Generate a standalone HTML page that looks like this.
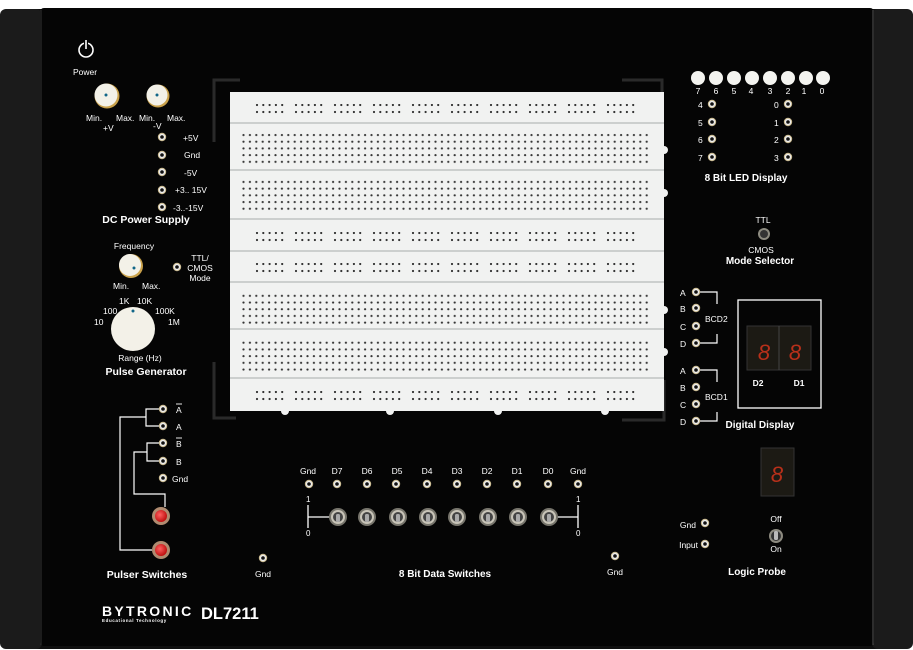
<!DOCTYPE html>
<html><head><meta charset="utf-8"><style>
html,body{margin:0;padding:0;background:#fff;}
svg{display:block;}
text{font-family:"Liberation Sans",sans-serif;fill:#fff;}
.b{font-weight:bold;}
</style></head><body>
<svg width="913" height="650" viewBox="0 0 913 650" xmlns="http://www.w3.org/2000/svg">
<defs>
<pattern id="term" x="242" y="133" width="6.4" height="6.7" patternUnits="userSpaceOnUse"><circle cx="1.5" cy="2" r="1.1" fill="#333"/></pattern>
<g id="grp" fill="#333"><circle cx="2" cy="1" r="1.1"/><circle cx="8.3" cy="1" r="1.1"/><circle cx="14.6" cy="1" r="1.1"/><circle cx="20.9" cy="1" r="1.1"/><circle cx="27.2" cy="1" r="1.1"/>
<circle cx="2" cy="8" r="1.1"/><circle cx="8.3" cy="8" r="1.1"/><circle cx="14.6" cy="8" r="1.1"/><circle cx="20.9" cy="8" r="1.1"/><circle cx="27.2" cy="8" r="1.1"/></g>
<pattern id="r1" x="255" y="104" width="39" height="20" patternUnits="userSpaceOnUse"><use href="#grp"/></pattern>
<pattern id="r2" x="255" y="232" width="39" height="20" patternUnits="userSpaceOnUse"><use href="#grp"/></pattern>
<pattern id="r3" x="255" y="263" width="39" height="20" patternUnits="userSpaceOnUse"><use href="#grp"/></pattern>
<pattern id="r4" x="255" y="391" width="39" height="20" patternUnits="userSpaceOnUse"><use href="#grp"/></pattern>
<g id="jack"><circle r="4.2" fill="#c9b98f"/><circle r="3.2" fill="#eee"/><circle r="1.8" fill="#111"/></g>
<g id="tog"><circle r="9" fill="#77756c"/><circle r="7" fill="#c8c4b8"/><circle r="5" fill="#444"/><rect x="-2" y="-3" width="4" height="8" rx="1.5" fill="#aaa"/></g>
<radialGradient id="red" cx="0.4" cy="0.4" r="0.6"><stop offset="0" stop-color="#ff6060"/><stop offset="1" stop-color="#c01010"/></radialGradient>
</defs>
<!-- outer body -->
<rect x="0" y="9" width="913" height="640" rx="8" fill="#101010"/>
<rect x="0" y="9" width="42" height="640" rx="6" fill="#1b1b1b"/>
<rect x="872" y="9" width="41" height="640" rx="6" fill="#1b1b1b"/>
<rect x="40" y="8" width="834" height="638" rx="4" fill="#050505"/>
<line x1="873" y1="10" x2="873" y2="645" stroke="#555" stroke-width="1"/>
<line x1="41" y1="10" x2="41" y2="645" stroke="#333" stroke-width="1"/>

<!-- brackets around breadboard -->
<g stroke="#2a2a2a" stroke-width="3" fill="none">
<path d="M214 142 V80 H240"/><path d="M622 80 H662 V100"/><path d="M214 362 V418 H236"/><path d="M622 420 H664 V380"/>
</g>
<!-- breadboard -->
<rect x="230" y="92" width="434" height="319" fill="#f1f2f1"/>
<g stroke="#bfc3c2" stroke-width="1.5">
<line x1="230" y1="123" x2="664" y2="123"/><line x1="230" y1="170" x2="664" y2="170"/><line x1="230" y1="219" x2="664" y2="219"/><line x1="230" y1="251" x2="664" y2="251"/><line x1="230" y1="282" x2="664" y2="282"/><line x1="230" y1="329" x2="664" y2="329"/><line x1="230" y1="378" x2="664" y2="378"/>
</g>
<rect x="242" y="133" width="408" height="33" fill="url(#term)"/>
<rect x="242" y="180" width="408" height="33" fill="url(#term)"/>
<rect x="242" y="293" width="408" height="33" fill="url(#term)"/>
<rect x="242" y="339" width="408" height="33" fill="url(#term)"/>
<rect x="255" y="104" width="390" height="12" fill="url(#r1)"/>
<rect x="255" y="232" width="390" height="12" fill="url(#r2)"/>
<rect x="255" y="263" width="390" height="12" fill="url(#r3)"/>
<rect x="255" y="391" width="390" height="12" fill="url(#r4)"/>
<g fill="#f1f2f1"><circle cx="664" cy="150" r="4"/><circle cx="664" cy="193" r="4"/><circle cx="664" cy="310" r="4"/><circle cx="664" cy="352" r="4"/>
<circle cx="285" cy="411" r="4"/><circle cx="390" cy="411" r="4"/><circle cx="498" cy="411" r="4"/><circle cx="605" cy="411" r="4"/></g>

<!-- Power / DC supply -->
<circle cx="86" cy="50" r="7" fill="none" stroke="#fff" stroke-width="1.6"/>
<rect x="84" y="39" width="4" height="10" fill="#050505"/><line x1="86" y1="40" x2="86" y2="49" stroke="#fff" stroke-width="1.6"/>
<text x="85" y="75" font-size="8.5" text-anchor="middle">Power</text>
<circle cx="107" cy="96" r="12.5" fill="#c9a14a"/><circle cx="106" cy="95" r="11.5" fill="#f3f1e8"/><circle cx="106" cy="95" r="1.5" fill="#168"/>
<circle cx="158" cy="96" r="11.5" fill="#c9a14a"/><circle cx="157" cy="95" r="10.5" fill="#f3f1e8"/><circle cx="157" cy="95" r="1.5" fill="#168"/>
<g font-size="8.5"><text x="86" y="121">Min.</text><text x="116" y="121">Max.</text><text x="139" y="121">Min.</text><text x="167" y="121">Max.</text>
<text x="103" y="131">+V</text><text x="153" y="129">-V</text></g>
<use href="#jack" x="162" y="137"/><use href="#jack" x="162" y="155"/><use href="#jack" x="162" y="172"/><use href="#jack" x="162" y="190"/><use href="#jack" x="162" y="207"/>
<g font-size="8.5"><text x="183" y="141">+5V</text><text x="184" y="158">Gnd</text><text x="184" y="176">-5V</text><text x="175" y="193">+3.. 15V</text><text x="173" y="211">-3..-15V</text></g>
<text x="146" y="223" font-size="10.5" class="b" text-anchor="middle">DC Power Supply</text>

<!-- Pulse generator -->
<text x="134" y="249" font-size="8.5" text-anchor="middle">Frequency</text>
<circle cx="131" cy="266" r="12" fill="#c9a14a"/><circle cx="130" cy="265" r="11" fill="#f3f1e8"/><circle cx="134" cy="268" r="1.5" fill="#168"/>
<text x="113" y="289" font-size="8.5">Min.</text><text x="142" y="289" font-size="8.5">Max.</text>
<use href="#jack" x="177" y="267"/>
<g font-size="8.5" text-anchor="middle"><text x="200" y="261">TTL/</text><text x="200" y="271">CMOS</text><text x="200" y="281">Mode</text></g>
<g font-size="8.5"><text x="119" y="304">1K</text><text x="137" y="304">10K</text><text x="103" y="314">100</text><text x="155" y="314">100K</text><text x="94" y="325">10</text><text x="168" y="325">1M</text></g>
<circle cx="133" cy="329" r="22" fill="#f3f1e8"/><circle cx="133" cy="311" r="1.5" fill="#168"/>
<text x="140" y="361" font-size="8.5" text-anchor="middle">Range (Hz)</text>
<text x="146" y="375" font-size="10.5" class="b" text-anchor="middle">Pulse Generator</text>

<!-- Pulser switches -->
<g stroke="#fff" stroke-width="1.2" fill="none">
<path d="M163 409 H146 V426 H163"/><path d="M146 417 H120 V550 H152"/>
<path d="M163 443 H147 V461 H163"/><path d="M147 452 H134 V494 H165 V507"/>
</g>
<use href="#jack" x="163" y="409"/><use href="#jack" x="163" y="426"/><use href="#jack" x="163" y="443"/><use href="#jack" x="163" y="461"/><use href="#jack" x="163" y="478"/>
<g font-size="8.5"><text x="176" y="413">A</text><line x1="176" y1="404" x2="182" y2="404" stroke="#fff" stroke-width="0.9"/><text x="176" y="430">A</text><text x="176" y="447">B</text><line x1="176" y1="438" x2="182" y2="438" stroke="#fff" stroke-width="0.9"/><text x="176" y="465">B</text><text x="172" y="482">Gnd</text></g>
<circle cx="161" cy="516" r="9" fill="#b08b70"/><circle cx="161" cy="516" r="6" fill="url(#red)"/>
<circle cx="161" cy="550" r="9" fill="#b08b70"/><circle cx="161" cy="550" r="6" fill="url(#red)"/>
<text x="147" y="578" font-size="10.5" class="b" text-anchor="middle">Pulser Switches</text>

<!-- Data switches -->
<g font-size="8.5" text-anchor="middle"><text x="308" y="474">Gnd</text><text x="337" y="474">D7</text><text x="367" y="474">D6</text><text x="397" y="474">D5</text><text x="427" y="474">D4</text><text x="457" y="474">D3</text><text x="487" y="474">D2</text><text x="517" y="474">D1</text><text x="548" y="474">D0</text><text x="578" y="474">Gnd</text></g>
<use href="#jack" x="309" y="484"/><use href="#jack" x="337" y="484"/><use href="#jack" x="367" y="484"/><use href="#jack" x="396" y="484"/><use href="#jack" x="427" y="484"/><use href="#jack" x="457" y="484"/><use href="#jack" x="487" y="484"/><use href="#jack" x="517" y="484"/><use href="#jack" x="548" y="484"/><use href="#jack" x="578" y="484"/>
<g stroke="#fff" stroke-width="1.3"><line x1="308" y1="505" x2="308" y2="528"/><line x1="308" y1="517" x2="330" y2="517"/><line x1="578" y1="505" x2="578" y2="528"/><line x1="556" y1="517" x2="578" y2="517"/></g>
<g font-size="8"><text x="306" y="502">1</text><text x="306" y="536">0</text><text x="576" y="502">1</text><text x="576" y="536">0</text></g>
<use href="#tog" x="338" y="517"/><use href="#tog" x="367" y="517"/><use href="#tog" x="398" y="517"/><use href="#tog" x="428" y="517"/><use href="#tog" x="457" y="517"/><use href="#tog" x="488" y="517"/><use href="#tog" x="518" y="517"/><use href="#tog" x="549" y="517"/>
<use href="#jack" x="263" y="558"/><text x="263" y="577" font-size="8.5" text-anchor="middle">Gnd</text>
<use href="#jack" x="615" y="556"/><text x="615" y="575" font-size="8.5" text-anchor="middle">Gnd</text>
<text x="445" y="577" font-size="10" class="b" text-anchor="middle">8 Bit Data Switches</text>

<!-- Brand -->
<text x="102" y="616" font-size="14" class="b" letter-spacing="2.3">BYTRONIC</text>
<text x="102" y="622" font-size="4.5" class="b" letter-spacing="0.6">Educational Technology</text>
<text x="201" y="619" font-size="16.5" class="b">DL7211</text>

<!-- LED display -->
<g fill="#f4f4f0"><circle cx="698" cy="78" r="7"/><circle cx="716" cy="78" r="7"/><circle cx="734" cy="78" r="7"/><circle cx="752" cy="78" r="7"/><circle cx="770" cy="78" r="7"/><circle cx="788" cy="78" r="7"/><circle cx="806" cy="78" r="7"/><circle cx="823" cy="78" r="7"/></g>
<g font-size="8.5" text-anchor="middle"><text x="698" y="94">7</text><text x="716" y="94">6</text><text x="734" y="94">5</text><text x="751" y="94">4</text><text x="770" y="94">3</text><text x="788" y="94">2</text><text x="804" y="94">1</text><text x="822" y="94">0</text></g>
<use href="#jack" x="712" y="104"/><use href="#jack" x="712" y="122"/><use href="#jack" x="712" y="139"/><use href="#jack" x="712" y="157"/>
<use href="#jack" x="788" y="104"/><use href="#jack" x="788" y="122"/><use href="#jack" x="788" y="139"/><use href="#jack" x="788" y="157"/>
<g font-size="8.5"><text x="698" y="108">4</text><text x="698" y="126">5</text><text x="698" y="143">6</text><text x="698" y="161">7</text><text x="774" y="108">0</text><text x="774" y="126">1</text><text x="774" y="143">2</text><text x="774" y="161">3</text></g>
<text x="746" y="181" font-size="10" class="b" text-anchor="middle">8 Bit LED Display</text>

<!-- Mode selector -->
<text x="763" y="223" font-size="8.5" text-anchor="middle">TTL</text>
<circle cx="764" cy="234" r="6" fill="#8d8b80"/><circle cx="764" cy="234" r="4" fill="#333"/>
<text x="761" y="253" font-size="8.5" text-anchor="middle">CMOS</text>
<text x="760" y="264" font-size="10" class="b" text-anchor="middle">Mode Selector</text>

<!-- BCD -->
<g stroke="#fff" stroke-width="1.2" fill="none"><path d="M696 292 H717 V343 H696"/><path d="M696 370 H717 V421 H696"/></g>
<rect x="712" y="304" width="12" height="30" fill="#050505"/><rect x="712" y="382" width="12" height="30" fill="#050505"/>
<use href="#jack" x="696" y="292"/><use href="#jack" x="696" y="308"/><use href="#jack" x="696" y="326"/><use href="#jack" x="696" y="343"/>
<use href="#jack" x="696" y="370"/><use href="#jack" x="696" y="387"/><use href="#jack" x="696" y="404"/><use href="#jack" x="696" y="421"/>
<g font-size="8.5"><text x="680" y="296">A</text><text x="680" y="312">B</text><text x="680" y="330">C</text><text x="680" y="347">D</text><text x="680" y="374">A</text><text x="680" y="391">B</text><text x="680" y="408">C</text><text x="680" y="425">D</text></g>
<text x="705" y="322" font-size="8.5">BCD2</text><text x="705" y="400" font-size="8.5">BCD1</text>
<rect x="738" y="300" width="83" height="108" fill="none" stroke="#fff" stroke-width="1.3"/>
<rect x="747" y="326" width="64" height="44" fill="#1c1a14" stroke="#333"/>
<line x1="779" y1="326" x2="779" y2="370" stroke="#444"/>
<text x="764" y="360" font-size="22" style="fill:#b8301a" text-anchor="middle" font-style="italic">8</text>
<text x="795" y="360" font-size="22" style="fill:#b8301a" text-anchor="middle" font-style="italic">8</text>
<text x="758" y="386" font-size="8.5" class="b" text-anchor="middle">D2</text><text x="799" y="386" font-size="8.5" class="b" text-anchor="middle">D1</text>
<text x="760" y="428" font-size="10" class="b" text-anchor="middle">Digital Display</text>

<!-- Logic probe -->
<rect x="761" y="448" width="33" height="48" fill="#1c1a14" stroke="#333"/>
<text x="777" y="482" font-size="22" style="fill:#b8301a" text-anchor="middle" font-style="italic">8</text>
<text x="696" y="528" font-size="8.5" text-anchor="end">Gnd</text><use href="#jack" x="705" y="523"/>
<text x="698" y="548" font-size="8.5" text-anchor="end">Input</text><use href="#jack" x="705" y="544"/>
<text x="776" y="522" font-size="8.5" text-anchor="middle">Off</text>
<circle cx="776" cy="536" r="7" fill="#8d8b80"/><circle cx="776" cy="536" r="5" fill="#333"/><rect x="774" y="531" width="4" height="9" rx="1.5" fill="#bbb"/>
<text x="776" y="552" font-size="8.5" text-anchor="middle">On</text>
<text x="757" y="575" font-size="10" class="b" text-anchor="middle">Logic Probe</text>
</svg>
</body></html>
